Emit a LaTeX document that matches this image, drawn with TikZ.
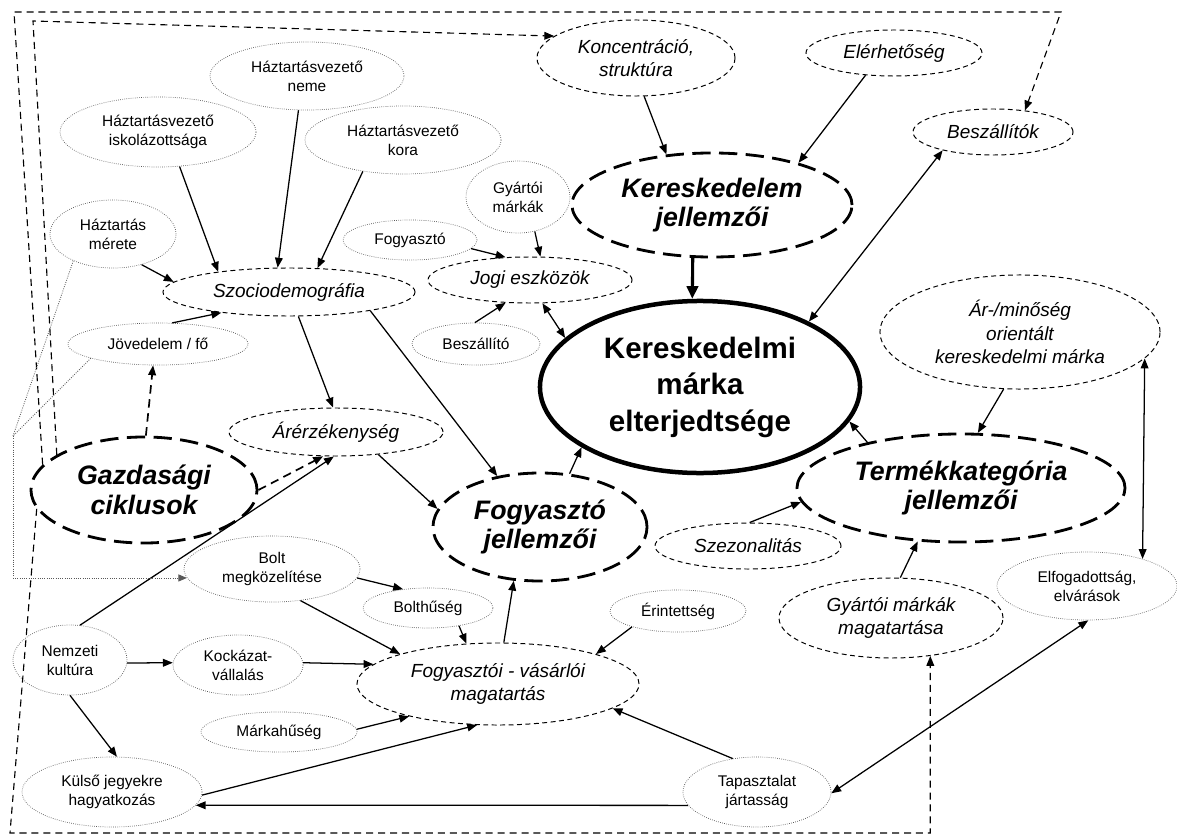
\documentclass[tikz,border=0pt]{standalone}
\usepackage{fontspec}
\setmainfont{Liberation Sans}
\usepackage{tikz}
\usetikzlibrary{arrows.meta,shapes.geometric}
\tikzset{>={Triangle[length=7pt,width=5.5pt]}}
\usepackage{xcolor}
\colorlet{mygray}{black!65}
\tikzstyle{tag}=[ellipse,draw=mygray,densely dotted,line width=0.5pt,inner sep=0,align=center,font=\fontsize{11}{13.5}\selectfont]
\tikzstyle{aspect}=[ellipse,draw,dash pattern=on 3.5pt off 2.5pt,line width=0.7pt,inner sep=0,align=center,font=\fontsize{13.5}{16.5}\selectfont\itshape]
\tikzstyle{factor}=[ellipse,draw,dash pattern=on 13pt off 6pt,line width=2pt,inner sep=0,align=center,font=\fontsize{19}{21}\selectfont\bfseries\itshape]
\tikzstyle{core}=[ellipse,draw,line width=3.2pt,inner sep=0,align=center,font=\fontsize{21}{26}\selectfont\bfseries]
\tikzstyle{flow}=[->,line width=0.9pt]
\tikzstyle{flow2}=[<->,line width=0.9pt]
\tikzstyle{loose}=[->,dash pattern=on 6pt off 4pt,line width=1.2pt]
\tikzstyle{outline}=[dash pattern=on 5pt off 3.5pt,line width=0.8pt]
\tikzstyle{hint}=[draw=mygray,densely dotted,line width=0.6pt]

\begin{document}
\begin{tikzpicture}[x=0.025cm,y=-0.025cm]
  \useasboundingbox (0,0) rectangle (1177,834);

  % centre
  \node[core,minimum width=8cm,minimum height=4.3cm] (marka) at (700,387) {Kereskedelmi\\márka\\elterjedtsége};

  % retail
  \node[factor,minimum width=7cm,minimum height=2.6cm] (keresk) at (712,205) {Kereskedelem\\jellemzői};
  \node[aspect,minimum width=4.95cm,minimum height=1.9cm] (konc) at (636,58) {Koncentráció,\\struktúra};
  \node[aspect,minimum width=4.4cm,minimum height=1.15cm] (eler) at (894,53) {Elérhetőség};
  \node[aspect,minimum width=4cm,minimum height=1.15cm] (beszt) at (993,132) {Beszállítók};

  % legal
  \node[aspect,minimum width=5.1cm,minimum height=1.15cm] (jogi) at (530,280) {Jogi eszközök};
  \node[tag,minimum width=2.6cm,minimum height=1.8cm] (gyartoi) at (518,197) {Gyártói\\márkák};
  \node[tag,minimum width=3.35cm,minimum height=1cm] (fogyo) at (410,240) {Fogyasztó};
  \node[tag,minimum width=3.2cm,minimum height=1.05cm] (beszo) at (476,344) {Beszállító};

  % sociodemography
  \node[aspect,minimum width=6.3cm,minimum height=1.2cm] (szoc) at (289,292) {Szociodemográfia};
  \node[tag,minimum width=4.85cm,minimum height=1.7cm] (neme) at (307,76) {Háztartásvezető\\neme};
  \node[tag,minimum width=4.9cm,minimum height=1.75cm] (isk) at (158,132) {Háztartásvezető\\iskolázottsága};
  \node[tag,minimum width=4.9cm,minimum height=1.7cm] (kora) at (403,140) {Háztartásvezető\\kora};
  \node[tag,minimum width=3.15cm,minimum height=1.7cm] (merete) at (113,234) {Háztartás\\mérete};
  \node[tag,minimum width=4.5cm,minimum height=1.05cm] (jov) at (158,344) {Jövedelem / fő};
  \node[aspect,minimum width=5.35cm,minimum height=1.2cm] (arerz) at (336,432) {Árérzékenység};
  \node[factor,minimum width=5.65cm,minimum height=2.65cm] (gazd) at (144,490) {Gazdasági\\ciklusok};

  % consumer
  \node[factor,minimum width=5.35cm,minimum height=2.7cm] (fogyj) at (540,527) {Fogyasztó\\jellemzői};
  \node[aspect,minimum width=7.05cm,minimum height=2.05cm] (fvm) at (498,684) {Fogyasztói - vásárlói\\magatartás};
  \node[tag,minimum width=4.4cm,minimum height=1.65cm] (bolt) at (272,569) {Bolt\\megközelítése};
  \node[tag,minimum width=3.25cm,minimum height=1cm] (bolthu) at (428,608) {Bolthűség};
  \node[tag,minimum width=2.85cm,minimum height=1.75cm] (nemz) at (70,660) {Nemzeti\\kultúra};
  \node[tag,minimum width=3.25cm,minimum height=1.5cm] (kock) at (238,665) {Kockázat-\\vállalás};
  \node[tag,minimum width=3.9cm,minimum height=1cm] (markahu) at (279,732) {Márkahűség};
  \node[tag,minimum width=4.5cm,minimum height=1.75cm] (kulso) at (112,792) {Külső jegyekre\\hagyatkozás};
  \node[tag,minimum width=3.4cm,minimum height=1.05cm] (erint) at (678,611) {Érintettség};
  \node[tag,minimum width=3.7cm,minimum height=1.75cm] (tapasz) at (757,792) {Tapasztalat\\jártasság};

  % product category
  \node[factor,minimum width=8.2cm,minimum height=2.7cm] (termek) at (961,488) {Termékkategória\\jellemzői};
  \node[aspect,minimum width=7cm,minimum height=2.85cm] (armin) at (1020,332) {Ár-/minőség\\orientált\\kereskedelmi márka};
  \node[aspect,minimum width=4.65cm,minimum height=1.15cm] (szez) at (748,546) {Szezonalitás};
  \node[aspect,minimum width=5.6cm,minimum height=2cm] (gyma) at (891,618) {Gyártói márkák\\magatartása};
  \node[tag,minimum width=4.5cm,minimum height=1.7cm] (elfog) at (1087,586) {Elfogadottság,\\elvárások};

  % corners of the long paths
  \coordinate (ca1) at (14,12);
  \coordinate (ca2) at (1061,12);
  \coordinate (cb1) at (33,21);
  \coordinate (cc1) at (10,833);
  \coordinate (dot1) at (13,436);

  % arrows
  \draw[flow] (konc.-78) -- (keresk.132);
  \draw[flow] (eler.218) -- (keresk.26);
  \draw[flow2] (marka.31) -- (beszt.200);
  \draw[->,line width=2.2pt,>={Triangle[length=9pt,width=8pt]}] (keresk.250) -- (marka.95);
  \draw[flow] (gyartoi.-64) -- (jogi.66);
  \draw[flow] (fogyo.-8) -- (jogi.137);
  \draw[flow] (beszo.93) -- (jogi.223);
  \draw[flow2] (jogi.-62) -- (marka.160);
  \draw[flow] (isk.-58) -- (szoc.164);
  \draw[flow] (neme.256) -- (szoc.115);
  \draw[flow] (kora.218) -- (szoc.40);
  \draw[flow] (merete.-47) -- (szoc.175);
  \draw[flow] (jov.56) -- (szoc.197);
  \draw[flow] (szoc.-69) -- (arerz.97);
  \draw[flow] (szoc.-13) -- (fogyj.130);
  \draw[loose] (gazd.88) -- (jov.257);
  \draw[loose] (gazd.0) -- (arerz.242);
  \draw[flow] (nemz.74) -- (arerz.265);
  \draw[flow] (arerz.-28) -- (fogyj.170);
  \draw[flow] (fogyj.61) -- (marka.207);
  \draw[flow] (termek.154) -- (marka.-13);
  \draw[flow] (armin.254) -- (termek.73);
  \draw[flow] (szez.86) -- (termek.185);
  \draw[flow2] (armin.-12) -- (elfog.26);
  \draw[flow] (gyma.77) -- (termek.231);
  \draw[flow] (bolt.-6) -- (bolthu.143);
  \draw[flow] (bolt.-48) -- (fvm.163);
  \draw[flow] (bolthu.-30) -- (fvm.128);
  \draw[flow] (nemz.-3) -- (kock.178);
  \draw[flow] (kock.2) -- (fvm.171);
  \draw[flow] (markahu.2) -- (fvm.200);
  \draw[flow] (nemz.-90) -- (kulso.82);
  \draw[flow] (kulso.-2) -- (fvm.243);
  \draw[flow] (tapasz.191) -- (kulso.-9);
  \draw[flow] (erint.199) -- (fvm.17);
  \draw[flow] (tapasz.126) -- (fvm.-12);
  \draw[flow] (fvm.82) -- (fogyj.244);
  \draw[flow2] (tapasz.-1) -- (elfog.-88);

  % economic cycles reach everything
  \draw[outline,->] (gazd.166) -- (ca1) -- (ca2) -- (beszt.34);
  \draw[outline,->] (gazd.158) -- (cb1) -- (konc.165);
  \draw[outline,->] (gazd.190) -- (cc1) -| (gyma.-44);

  % dotted hints
  \draw[hint] (merete.214) -- (dot1);
  \draw[hint] (jov.192) -- (dot1);
  \draw[hint,->,>={Triangle[length=6pt,width=5pt]}] (dot1) |- (bolt.186);
\end{tikzpicture}
\end{document}
